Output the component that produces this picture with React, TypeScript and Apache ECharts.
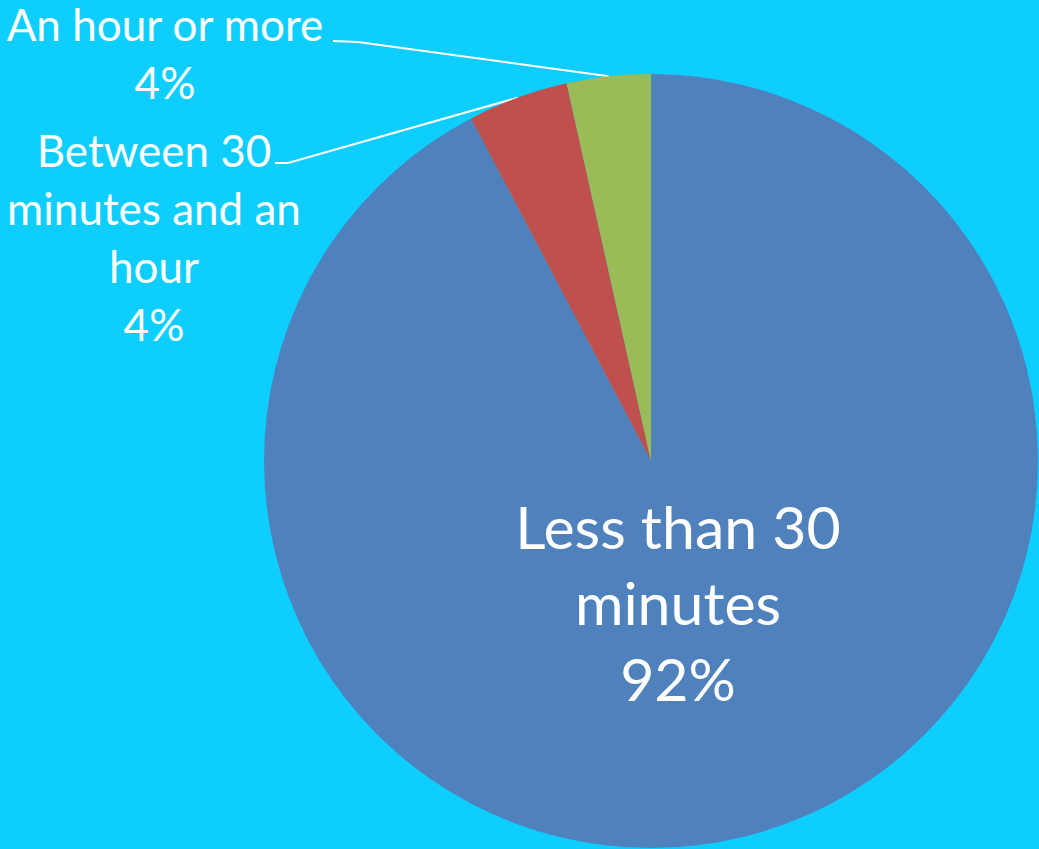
import React, { useEffect, useRef } from "react";
import * as echarts from "echarts";

const categories = ["Less than 30\nminutes", "Between 30\nminutes and an\nhour", "An hour or more"];
const values = [92.3, 4.2, 3.5];
const colors = ["#4F81BD", "#C0504D", "#9BBB59"];

export default function App() {
  const ref = useRef<HTMLDivElement>(null);
  useEffect(() => {
    document.body.style.margin = "0";
    const chart = echarts.init(ref.current!, undefined, { renderer: "svg" });
    const total = values.reduce((a, b) => a + b, 0);
    const font = "Lato, 'Open Sans', sans-serif";
    chart.setOption({
      animation: false,
      backgroundColor: "#0ECEFF",
      series: [
        {
          type: "pie",
          center: [651, 461],
          radius: 387,
          startAngle: 90,
          clockwise: true,
          avoidLabelOverlap: false,
          silent: true,
          data: categories.map((c, i) => ({
            name: c,
            value: values[i],
            itemStyle: { color: colors[i] },
            label:
              i === 0
                ? { position: "inside", fontSize: 59, lineHeight: 76 }
                : { position: "outside", fontSize: 44, lineHeight: 58 },
          })),
          label: {
            show: true,
            color: "#FFFFFF",
            fontFamily: font,
            align: "center",
            formatter: (p: any) => `${p.name}\n${Math.round((p.value / total) * 100)}%`,
          },
          labelLine: {
            show: true,
            lineStyle: { color: "#FFFFFF", width: 2 },
          },
          labelLayout: (p: any) => {
            const start = p.labelLinePoints ? p.labelLinePoints[0] : [0, 0];
            if (p.dataIndex === 0) {
              return { x: 678, y: 602, align: "center", verticalAlign: "middle" };
            }
            if (p.dataIndex === 1) {
              return {
                x: 154,
                y: 237,
                align: "center",
                verticalAlign: "middle",
                labelLinePoints: [start, [288, 163], [275, 163]],
              };
            }
            return {
              x: 165,
              y: 53,
              align: "center",
              verticalAlign: "middle",
              labelLinePoints: [start, [358, 42], [333, 41]],
            };
          },
        },
      ],
    });
    return () => chart.dispose();
  }, []);
  return <div ref={ref} style={{ width: 1039, height: 849 }} />;
}
